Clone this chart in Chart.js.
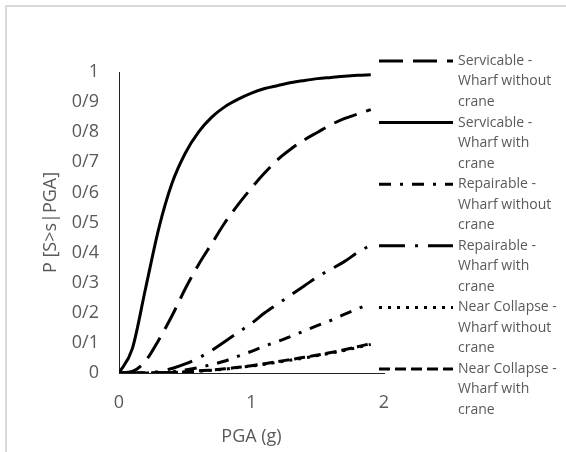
<!DOCTYPE html>
<html>
<head>
<meta charset="utf-8">
<script src="https://cdn.jsdelivr.net/npm/chart.js@4/dist/chart.umd.min.js"></script>
<style>
  body { margin: 0; background: #fff; }
  #wrap { position: relative; width: 566px; height: 452px; }
  #frame { position: absolute; left: 5px; top: 5px; right: 0; bottom: 0; border-left: 2px solid #d9d9d9; border-top: 2px solid #d9d9d9; }
  canvas { position: absolute; left: 0; top: 0; }
</style>
</head>
<body>
<div id="wrap">
  <div id="frame"></div>
  <canvas id="chart" width="566" height="452"></canvas>
</div>
<script>
const pga = [0, 0.1, 0.2, 0.3, 0.4, 0.5, 0.6, 0.7, 0.8, 0.9, 1.0, 1.1, 1.2, 1.3, 1.4, 1.5, 1.6, 1.7, 1.8, 1.9];

const servWithout = [0, 0.005, 0.04, 0.11, 0.19, 0.28, 0.36, 0.43, 0.5, 0.56, 0.615, 0.665, 0.71, 0.745, 0.775, 0.8, 0.825, 0.845, 0.86, 0.875];
const servWith = [0, 0.08, 0.28, 0.48, 0.63, 0.73, 0.8, 0.85, 0.885, 0.91, 0.93, 0.945, 0.955, 0.965, 0.972, 0.978, 0.982, 0.986, 0.989, 0.991];
const repWithout = [0, 0, 0, 0.001, 0.004, 0.01, 0.018, 0.028, 0.04, 0.056, 0.072, 0.09, 0.105, 0.122, 0.14, 0.158, 0.175, 0.195, 0.213, 0.232];
const repWith = [0, 0, 0.001, 0.005, 0.015, 0.03, 0.05, 0.075, 0.105, 0.135, 0.165, 0.2, 0.23, 0.26, 0.29, 0.32, 0.345, 0.37, 0.4, 0.425];
const ncWithout = [0, 0, 0, 0.001, 0.002, 0.003, 0.006, 0.009, 0.013, 0.018, 0.023, 0.029, 0.036, 0.043, 0.05, 0.058, 0.066, 0.075, 0.085, 0.095];
const ncWith = [0, 0, 0, 0.001, 0.002, 0.004, 0.007, 0.01, 0.014, 0.019, 0.024, 0.031, 0.038, 0.045, 0.052, 0.06, 0.068, 0.077, 0.087, 0.098];

const seriesNames = [
  ['Servicable -', 'Wharf without', 'crane'],
  ['Servicable -', 'Wharf with', 'crane'],
  ['Repairable -', 'Wharf without', 'crane'],
  ['Repairable -', 'Wharf with', 'crane'],
  ['Near Collapse -', 'Wharf without', 'crane'],
  ['Near Collapse -', 'Wharf with', 'crane'],
];
const seriesValues = [servWithout, servWith, repWithout, repWith, ncWithout, ncWith];
const dashes = [[24, 10], [], [12, 9, 3, 9], [26, 10, 3, 10], [3, 6], [11, 5]];

const xTicks = [0, 1, 2];
const yTicks = [0, 0.1, 0.2, 0.3, 0.4, 0.5, 0.6, 0.7, 0.8, 0.9, 1];

const textColor = '#595959';
const font = 'Open Sans';

const datasets = seriesValues.map((vals, i) => ({
  label: seriesNames[i].join(' '),
  data: pga.map((x, j) => ({ x: x, y: vals[j] })),
  borderColor: '#000',
  borderWidth: 3,
  borderDash: dashes[i],
  pointRadius: 0,
  fill: false,
  cubicInterpolationMode: 'monotone',
}));

// legend drawn by hand so the labels can wrap over three lines
const sideLegend = {
  id: 'sideLegend',
  afterDraw(chart) {
    const ctx = chart.ctx;
    ctx.save();
    seriesNames.forEach((lines, i) => {
      const y = 61 + i * 61.6;
      ctx.strokeStyle = '#000';
      ctx.lineWidth = 3;
      ctx.setLineDash(dashes[i]);
      ctx.beginPath();
      ctx.moveTo(379, y);
      ctx.lineTo(453, y);
      ctx.stroke();
      ctx.setLineDash([]);
      ctx.fillStyle = textColor;
      ctx.font = '14px "' + font + '"';
      ctx.textBaseline = 'middle';
      ctx.textAlign = 'left';
      lines.forEach((t, k) => ctx.fillText(t, 458, y + k * 20.5));
    });
    ctx.restore();
  }
};

new Chart(document.getElementById('chart'), {
  type: 'line',
  data: { datasets: datasets },
  options: {
    responsive: false,
    animation: false,
    layout: { padding: { left: 0, top: 72, right: 182, bottom: 0 } },
    plugins: { legend: { display: false }, tooltip: { enabled: false } },
    scales: {
      x: {
        type: 'linear',
        min: 0,
        max: 2,
        afterFit: (s) => { s.height = 79; },
        afterBuildTicks: (s) => { s.ticks = xTicks.map(v => ({ value: v })); },
        grid: { display: false, drawTicks: false },
        border: { display: true, color: '#222', width: 1 },
        ticks: { color: textColor, font: { family: font, size: 18 }, padding: 19 },
        title: { display: true, text: 'PGA (g)', color: textColor, font: { family: font, size: 18 }, padding: { top: 0, bottom: 4 } },
      },
      y: {
        min: 0,
        max: 1,
        afterFit: (s) => { s.width = 119; },
        afterBuildTicks: (s) => { s.ticks = yTicks.map(v => ({ value: v })); },
        grid: { display: false, drawTicks: false },
        border: { display: true, color: '#222', width: 1 },
        ticks: {
          color: textColor,
          font: { family: font, size: 18 },
          padding: 20,
          callback: (v) => (v === 0 || v === 1) ? String(v) : v.toFixed(1).replace('.', '/'),
        },
        title: { display: true, text: 'P [S>s|PGA]', color: textColor, font: { family: font, size: 18 }, padding: { top: 40, bottom: 0 } },
      },
    },
  },
  plugins: [sideLegend],
});
</script>
</body>
</html>
